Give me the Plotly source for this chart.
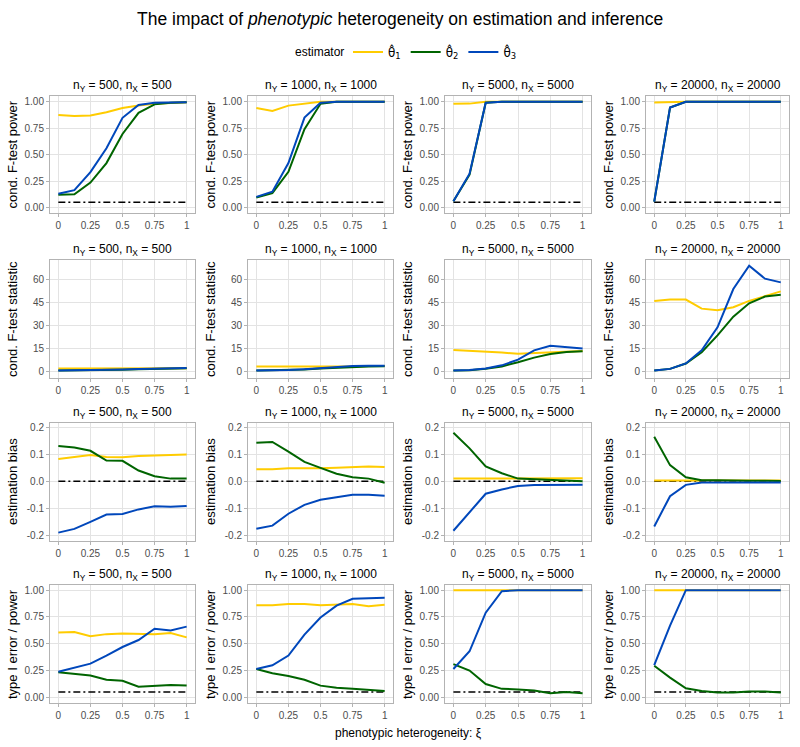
import plotly.graph_objects as go

# ---------------- data ----------------
xi = [0, 0.125, 0.25, 0.375, 0.5, 0.625, 0.75, 0.875, 1]
sample_sizes = [500, 1000, 5000, 20000]
metric_labels = ["cond. F-test power", "cond. F-test statistic", "estimation bias", "type I error / power"]
estimators = ["θ̂<sub>1</sub>", "θ̂<sub>2</sub>", "θ̂<sub>3</sub>"]
reference_values = [0.05, None, 0.0, 0.05]

# cond. F-test power  (per sample size: n=500, 1000, 5000, 20000)
fpower_t1 = [
    [0.875, 0.865, 0.87, 0.90, 0.94, 0.965, 0.98, 0.99, 0.995],
    [0.94, 0.913, 0.963, 0.978, 1.0, 1.0, 1.0, 1.0, 1.0],
    [0.98, 0.982, 1.0, 1.0, 1.0, 1.0, 1.0, 1.0, 1.0],
    [0.993, 0.998, 1.0, 1.0, 1.0, 1.0, 1.0, 1.0, 1.0],
]
fpower_t2 = [
    [0.12, 0.125, 0.235, 0.42, 0.695, 0.895, 0.975, 0.99, 0.995],
    [0.095, 0.135, 0.337, 0.74, 0.98, 1.0, 1.0, 1.0, 1.0],
    [0.06, 0.31, 0.99, 1.0, 1.0, 1.0, 1.0, 1.0, 1.0],
    [0.055, 0.945, 1.0, 1.0, 1.0, 1.0, 1.0, 1.0, 1.0],
]
fpower_t3 = [
    [0.13, 0.164, 0.334, 0.56, 0.848, 0.97, 0.99, 0.99, 0.995],
    [0.10, 0.15, 0.42, 0.85, 0.99, 1.0, 1.0, 1.0, 1.0],
    [0.06, 0.32, 0.99, 1.0, 1.0, 1.0, 1.0, 1.0, 1.0],
    [0.055, 0.945, 1.0, 1.0, 1.0, 1.0, 1.0, 1.0, 1.0],
]

# cond. F-test statistic
fstat_t1 = [
    [2.3, 2.3, 2.2, 2.1, 2.1, 2.1, 2.2, 2.3, 2.4],
    [3.6, 3.6, 3.5, 3.4, 3.3, 3.4, 3.6, 3.8, 3.9],
    [14.2, 13.8, 13.3, 12.6, 11.8, 12.2, 12.8, 13.3, 13.6],
    [46.0, 46.9, 46.9, 41.0, 39.9, 41.9, 46.0, 49.2, 52.2],
]
fstat_t2 = [
    [1.0, 1.0, 1.1, 1.2, 1.4, 1.7, 2.0, 2.2, 2.4],
    [1.0, 1.05, 1.2, 1.6, 2.2, 2.8, 3.3, 3.6, 3.7],
    [1.0, 1.1, 2.1, 3.6, 6.3, 9.3, 11.7, 13.0, 13.4],
    [1.0, 2.0, 5.5, 12.8, 23.7, 35.8, 44.5, 48.8, 50.0],
]
fstat_t3 = [
    [1.0, 1.05, 1.1, 1.3, 1.6, 1.9, 2.2, 2.4, 2.5],
    [1.0, 1.1, 1.3, 1.8, 2.5, 3.2, 3.9, 4.1, 4.0],
    [1.0, 1.2, 2.2, 4.3, 8.0, 14.0, 17.0, 16.2, 15.2],
    [1.0, 2.0, 5.5, 14.0, 28.9, 53.7, 68.8, 60.4, 58.0],
]

# estimation bias
bias_t1 = [
    [0.083, 0.09, 0.097, 0.09, 0.089, 0.094, 0.095, 0.096, 0.099],
    [0.045, 0.045, 0.048, 0.047, 0.048, 0.05, 0.053, 0.055, 0.053],
    [0.01, 0.01, 0.011, 0.011, 0.011, 0.011, 0.011, 0.011, 0.011],
    [0.003, 0.003, 0.003, 0.003, 0.003, 0.003, 0.003, 0.003, 0.003],
]
bias_t2 = [
    [0.131, 0.125, 0.113, 0.077, 0.076, 0.04, 0.019, 0.01, 0.01],
    [0.143, 0.146, 0.11, 0.072, 0.05, 0.028, 0.015, 0.01, -0.005],
    [0.18, 0.122, 0.055, 0.03, 0.01, 0.007, 0.005, 0.003, 0.0],
    [0.165, 0.06, 0.015, 0.004, 0.004, 0.002, 0.002, 0.002, 0.001],
]
bias_t3 = [
    [-0.19, -0.176, -0.15, -0.123, -0.121, -0.104, -0.092, -0.094, -0.091],
    [-0.176, -0.164, -0.12, -0.087, -0.068, -0.058, -0.05, -0.05, -0.053],
    [-0.183, -0.115, -0.046, -0.03, -0.017, -0.014, -0.013, -0.013, -0.013],
    [-0.167, -0.055, -0.013, -0.004, -0.004, -0.004, -0.004, -0.004, -0.004],
]

# type I error / power
rej_t1 = [
    [0.605, 0.61, 0.57, 0.59, 0.595, 0.59, 0.59, 0.60, 0.56],
    [0.86, 0.86, 0.87, 0.87, 0.86, 0.865, 0.87, 0.85, 0.865],
    [1.0, 1.0, 1.0, 1.0, 1.0, 1.0, 1.0, 1.0, 1.0],
    [1.0, 1.0, 1.0, 1.0, 1.0, 1.0, 1.0, 1.0, 1.0],
]
rej_t2 = [
    [0.235, 0.22, 0.205, 0.165, 0.155, 0.10, 0.105, 0.115, 0.11],
    [0.265, 0.225, 0.20, 0.165, 0.11, 0.09, 0.08, 0.07, 0.06],
    [0.31, 0.25, 0.125, 0.08, 0.075, 0.065, 0.04, 0.05, 0.04],
    [0.295, 0.185, 0.085, 0.06, 0.045, 0.045, 0.055, 0.055, 0.045],
]
rej_t3 = [
    [0.24, 0.28, 0.315, 0.39, 0.47, 0.535, 0.64, 0.625, 0.66],
    [0.265, 0.30, 0.39, 0.585, 0.745, 0.855, 0.92, 0.925, 0.93],
    [0.265, 0.43, 0.79, 0.99, 1.0, 1.0, 1.0, 1.0, 1.0],
    [0.30, 0.67, 1.0, 1.0, 1.0, 1.0, 1.0, 1.0, 1.0],
]

y_ticks = [
    [0, 0.25, 0.5, 0.75, 1.0],
    [0, 15, 30, 45, 60],
    [-0.2, -0.1, 0.0, 0.1, 0.2],
    [0, 0.25, 0.5, 0.75, 1.0],
]
y_ticktext = [
    ["0.00", "0.25", "0.50", "0.75", "1.00"],
    ["0", "15", "30", "45", "60"],
    ["-0.2", "-0.1", "0.0", "0.1", "0.2"],
    ["0.00", "0.25", "0.50", "0.75", "1.00"],
]
x_ticks = [0, 0.25, 0.5, 0.75, 1]
x_ticktext = ["0", "0.25", "0.5", "0.75", "1"]

# ---------------- styling / layout ----------------
W, H = 800, 747
colors = ["#FFCC00", "#006400", "#0047BB"]
col_px = [(50, 195), (248, 393), (445, 591), (646, 789)]
row_px = [(96, 213), (260, 378), (423, 541), (585, 703)]
y_ranges = [[-0.052, 1.054], [-3.9, 72.5], [-0.221, 0.216], [-0.052, 1.048]]
x_range = [-0.065, 1.065]

metric_data = [
    (fpower_t1, fpower_t2, fpower_t3),
    (fstat_t1, fstat_t2, fstat_t3),
    (bias_t1, bias_t2, bias_t3),
    (rej_t1, rej_t2, rej_t3),
]

fig = go.Figure()
annotations = []
font_family = "Liberation Sans, Arial, sans-serif"
layout_axes = {}

for r in range(4):
    for c in range(4):
        idx = r * 4 + c + 1
        xa = "x" if idx == 1 else f"x{idx}"
        ya = "y" if idx == 1 else f"y{idx}"
        xkey = "xaxis" if idx == 1 else f"xaxis{idx}"
        ykey = "yaxis" if idx == 1 else f"yaxis{idx}"
        x0, x1 = col_px[c]
        y0, y1 = row_px[r]
        layout_axes[xkey] = dict(
            domain=[x0 / W, x1 / W], anchor=ya, range=x_range,
            tickvals=x_ticks, ticktext=x_ticktext,
            showgrid=True, gridcolor="#E3E3E3", gridwidth=1.3,
            zeroline=False, showline=True, linecolor="#B3B3B3", linewidth=1, mirror=True,
            ticks="outside", ticklen=3, tickcolor="#B3B3B3",
            tickfont=dict(size=10, color="#4D4D4D", family=font_family),
        )
        layout_axes[ykey] = dict(
            domain=[1 - y1 / H, 1 - y0 / H], anchor=xa, range=y_ranges[r],
            tickvals=y_ticks[r], ticktext=y_ticktext[r],
            showgrid=True, gridcolor="#E3E3E3", gridwidth=1.3,
            zeroline=False, showline=True, linecolor="#B3B3B3", linewidth=1, mirror=True,
            ticks="outside", ticklen=3, tickcolor="#B3B3B3",
            tickfont=dict(size=10, color="#4D4D4D", family=font_family),
        )
        # reference line
        ref = reference_values[r]
        if ref is not None:
            fig.add_trace(go.Scatter(
                x=[xi[0], xi[-1]], y=[ref, ref], mode="lines",
                line=dict(color="black", width=1.4, dash="7px,3px,2px,3px"),
                showlegend=False, hoverinfo="skip", xaxis=xa, yaxis=ya,
            ))
        for k in range(3):
            fig.add_trace(go.Scatter(
                x=xi, y=metric_data[r][k][c], mode="lines",
                line=dict(color=colors[k], width=2),
                name=estimators[k], legendgroup=estimators[k],
                showlegend=(r == 0 and c == 0),
                xaxis=xa, yaxis=ya,
            ))
        # panel title
        annotations.append(dict(
            text=f"n<sub>Y</sub> = {sample_sizes[c]}, n<sub>X</sub> = {sample_sizes[c]}",
            x=(x0 + x1) / 2 / W, y=1 - (y0 - 10) / H, xref="paper", yref="paper",
            xanchor="center", yanchor="middle", showarrow=False,
            font=dict(size=12, color="black", family=font_family),
        ))
        # y-axis title
        annotations.append(dict(
            text=metric_labels[r], textangle=-90,
            x=(x0 - 38) / W, y=1 - (y0 + y1) / 2 / H, xref="paper", yref="paper",
            xanchor="center", yanchor="middle", showarrow=False,
            font=dict(size=13, color="black", family=font_family),
        ))

annotations.append(dict(
    text="phenotypic heterogeneity: ξ",
    x=408 / W, y=1 - 733 / H, xref="paper", yref="paper",
    xanchor="center", yanchor="middle", showarrow=False,
    font=dict(size=12, color="black", family=font_family),
))
annotations.append(dict(
    text="The impact of <i>phenotypic</i> heterogeneity on estimation and inference",
    x=400 / W, y=1 - 19 / H, xref="paper", yref="paper",
    xanchor="center", yanchor="middle", showarrow=False,
    font=dict(size=17.5, color="black", family=font_family),
))
# legend title
annotations.append(dict(
    text="estimator",
    x=346 / W, y=1 - 52 / H, xref="paper", yref="paper",
    xanchor="right", yanchor="middle", showarrow=False,
    font=dict(size=12, color="black", family=font_family),
))

fig.update_layout(
    width=W, height=H,
    margin=dict(l=0, r=0, t=0, b=0),
    paper_bgcolor="white", plot_bgcolor="white",
    font=dict(family=font_family, color="black"),
    annotations=annotations,
    legend=dict(
        orientation="h", x=348 / W, xanchor="left", y=1 - 52 / H, yanchor="middle",
        font=dict(size=12, family="DejaVu Sans, sans-serif"),
        itemwidth=30, tracegroupgap=0,
    ),
    **layout_axes,
)

fig.write_html(
    "out.html",
    config={"displayModeBar": False},
    post_script="document.body.style.margin='0px';",
)
